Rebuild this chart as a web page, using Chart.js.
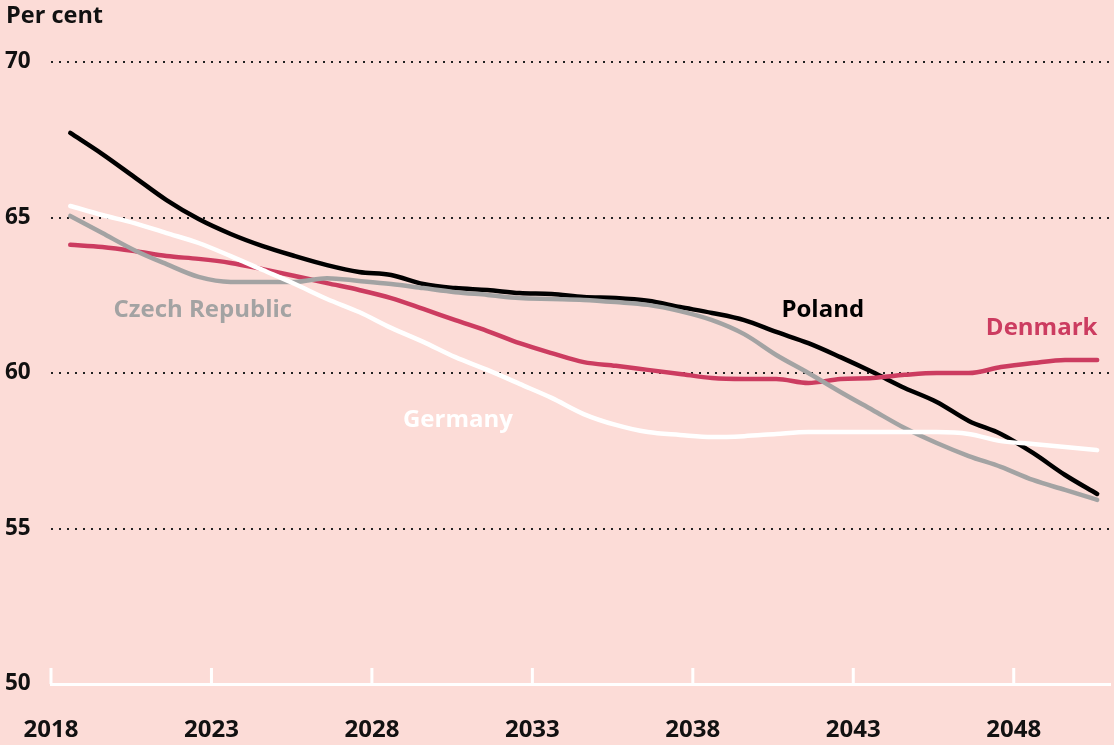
<!DOCTYPE html>
<html>
<head>
<meta charset="utf-8">
<script src="https://cdn.jsdelivr.net/npm/chart.js@4/dist/chart.umd.min.js"></script>
<style>
html,body{margin:0;padding:0;background:#fcdcd7;}
#wrap{position:relative;width:1114px;height:745px;}
</style>
</head>
<body>
<div id="wrap"><canvas id="c" width="1114" height="745"></canvas></div>
<script>
// ---- data (share of population, per cent) ----
const YEARS=[2018,2019,2020,2021,2022,2023,2024,2025,2026,2027,2028,2029,2030,2031,2032,2033,2034,2035,2036,2037,2038,2039,2040,2041,2042,2043,2044,2045,2046,2047,2048,2049,2050];
const POLAND=[67.72,67.04,66.30,65.56,64.95,64.47,64.08,63.76,63.47,63.25,63.15,62.86,62.73,62.67,62.57,62.54,62.44,62.41,62.32,62.12,61.93,61.70,61.32,60.96,60.51,60.03,59.52,59.07,58.46,58.04,57.43,56.72,56.11];
const CZECH=[65.05,64.50,63.95,63.50,63.09,62.93,62.93,62.93,63.05,62.96,62.86,62.73,62.60,62.51,62.41,62.38,62.35,62.28,62.19,61.99,61.70,61.25,60.58,60.00,59.39,58.81,58.23,57.75,57.33,56.98,56.56,56.24,55.92];
const GERMANY=[65.37,65.08,64.82,64.50,64.18,63.76,63.31,62.86,62.38,61.96,61.45,61.00,60.51,60.10,59.65,59.20,58.68,58.33,58.10,58.01,57.94,57.97,58.04,58.10,58.10,58.10,58.10,58.10,58.04,57.81,57.72,57.62,57.52];
const DENMARK=[64.12,64.05,63.92,63.76,63.67,63.54,63.34,63.12,62.89,62.67,62.41,62.06,61.70,61.35,60.96,60.64,60.35,60.23,60.10,59.97,59.84,59.81,59.81,59.68,59.81,59.84,59.94,60.00,60.00,60.19,60.32,60.42,60.42];
const X_TICKS=[2018,2023,2028,2033,2038,2043,2048];
const Y_TICKS=[50,55,60,65,70];

const BG='#fcdcd7';
const FONT='"Open Sans", Lato, sans-serif';
const CLR={poland:'#000000',czech:'#a3a3a3',germany:'#ffffff',denmark:'#cc3c60'};

// points sit a bit after the start of each year
const pts=arr=>arr.map((v,i)=>({x:YEARS[i]+0.6,y:v}));

const LABELS=[
  {t:'Czech Republic',x:2022.73,y:62.03,c:CLR.czech},
  {t:'Germany',x:2030.68,y:58.49,c:CLR.germany},
  {t:'Poland',x:2042.05,y:62.03,c:CLR.poland},
  {t:'Denmark',x:2048.87,y:61.45,c:CLR.denmark},
];

const bgPlugin={id:'bg',beforeDraw(ch){const c=ch.ctx;c.save();c.fillStyle=BG;c.fillRect(0,0,ch.width,ch.height);c.restore();}};

// upward ticks on the x axis + series labels + unit title
const extras={id:'extras',
  beforeDatasetsDraw(ch){
    const c=ch.ctx,xs=ch.scales.x,ys=ch.scales.y,base=ys.getPixelForValue(50);
    c.save();c.strokeStyle='#ffffff';c.lineWidth=3;
    X_TICKS.forEach(t=>{const px=xs.getPixelForValue(t);c.beginPath();c.moveTo(px,base);c.lineTo(px,base-16);c.stroke();});
    c.restore();
  },
  afterDraw(ch){
    const c=ch.ctx,xs=ch.scales.x,ys=ch.scales.y;
    c.save();
    c.font='bold 24px '+FONT;c.textAlign='center';c.textBaseline='middle';
    LABELS.forEach(l=>{c.fillStyle=l.c;c.fillText(l.t,xs.getPixelForValue(l.x),ys.getPixelForValue(l.y));});
    c.font='bold 23.5px '+FONT;c.textAlign='left';c.fillStyle='#111';
    c.fillText('Per cent',6,16);
    c.restore();
  }
};

const ds=(label,arr,color)=>({label,data:pts(arr),borderColor:color,backgroundColor:color,borderWidth:4.5,pointRadius:0,tension:0.3,cubicInterpolationMode:'monotone',borderCapStyle:'round',borderJoinStyle:'round'});

new Chart(document.getElementById('c').getContext('2d'),{
  type:'line',
  data:{datasets:[
    ds('Germany',GERMANY,CLR.germany),
    ds('Czech Republic',CZECH,CLR.czech),
    ds('Denmark',DENMARK,CLR.denmark),
    ds('Poland',POLAND,CLR.poland),
  ]},
  options:{
    responsive:false,animation:false,
    layout:{padding:{left:5,right:4,top:62,bottom:0}},
    plugins:{legend:{display:false},tooltip:{enabled:false}},
    scales:{
      x:{type:'linear',min:2018,max:2051,
        afterBuildTicks:s=>{s.ticks=X_TICKS.map(v=>({value:v}));},
        afterFit:s=>{s.height=61;s.paddingLeft=0;s.paddingRight=0;},
        grid:{display:false,drawTicks:false},
        border:{display:true,color:'#ffffff',width:3},
        ticks:{padding:32,color:'#111',font:{family:FONT,size:24,weight:'bold'},callback:v=>String(v),maxRotation:0,autoSkip:false}},
      y:{min:50,max:70,
        afterBuildTicks:s=>{s.ticks=Y_TICKS.map(v=>({value:v}));},
        afterFit:s=>{s.width=46;},
        grid:{drawTicks:false,lineWidth:2,color:c=>c.tick&&c.tick.value>50?'#222':'rgba(0,0,0,0)'},
        border:{display:false,dash:[2,6]},
        ticks:{crossAlign:'far',padding:0,color:'#111',font:{family:FONT,size:22.5,weight:'bold'}}}
    }
  },
  plugins:[bgPlugin,extras]
});
</script>
</body>
</html>
